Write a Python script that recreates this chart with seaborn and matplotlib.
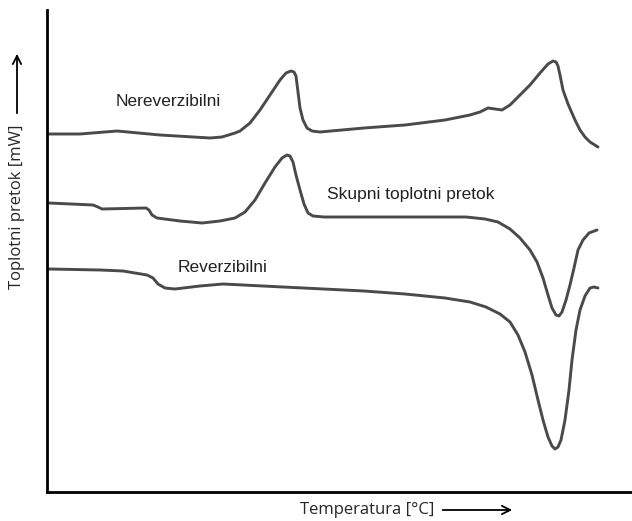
import pandas as pd
import seaborn as sns
import matplotlib.pyplot as plt

sns.set_theme(style="white")

# temperature axis (arbitrary units) and heat-flow values
t_nerev = [49, 80, 117, 160, 210, 222, 235, 240, 250, 260, 270, 280, 286, 291, 294, 296,
           298, 300, 303, 307, 312, 320, 364, 405, 445, 470, 480, 488, 495, 502, 510, 520,
           530, 540, 548, 553, 556, 558, 560, 563, 568, 575, 580, 585, 590, 598]
hf_nerev = [387, 387, 390, 386, 383, 384, 388, 390, 398, 411, 426, 441, 448, 450, 449, 445,
            429, 413, 401, 393, 390, 389, 393, 396, 401, 406, 409, 413, 412, 411, 416, 426,
            436, 448, 457, 460, 459, 455, 446, 431, 417, 401, 391, 384, 379, 374]

t_total = [49, 93, 98, 102, 146, 149, 152, 157, 180, 202, 220, 235, 245, 255, 265, 275,
           282, 287, 290, 293, 296, 300, 304, 308, 313, 324, 405, 466, 485, 498, 510, 520,
           530, 537, 543, 548, 552, 556, 559, 562, 566, 570, 574, 578, 583, 589, 597]
hf_total = [318, 316, 314, 312, 313, 311, 306, 303, 300, 298, 300, 303, 309, 321, 338, 354,
            363, 366, 365, 359, 346, 331, 317, 308, 305, 304, 304, 304, 302, 299, 292, 283,
            271, 259, 243, 226, 213, 206, 205, 209, 221, 236, 253, 271, 281, 288, 291]

t_rev = [49, 100, 123, 147, 153, 158, 165, 175, 200, 223, 283, 364, 405, 445, 470, 486,
         500, 510, 518, 525, 532, 538, 543, 548, 552, 555, 558, 561, 565, 569, 572, 576,
         580, 585, 590, 594, 598]
hf_rev = [252, 251, 250, 246, 243, 237, 233, 232, 235, 237, 234, 230, 227, 223, 219, 214,
          207, 199, 186, 169, 146, 121, 101, 84, 75, 72, 74, 81, 101, 131, 161, 191,
          211, 225, 233, 234, 233]

labels = ["Nereverzibilni", "Skupni toplotni pretok", "Reverzibilni"]

fig = plt.figure(figsize=(6.32, 5.21), dpi=100)
ax = fig.add_axes([47 / 632, 29 / 521, 585 / 632, 482 / 521])

color = "#4a4a4a"
for t, hf in [(t_nerev, hf_nerev), (t_total, hf_total), (t_rev, hf_rev)]:
    df = pd.DataFrame({"T": t, "HF": hf})
    sns.lineplot(data=df, x="T", y="HF", ax=ax, color=color, linewidth=2.1,
                 estimator=None, sort=False, solid_joinstyle="round",
                 solid_capstyle="round")

ax.set_xlim(47, 632)
ax.set_ylim(29, 511)
ax.set_xticks([])
ax.set_yticks([])
ax.set_xlabel("")
ax.set_ylabel("")
for s in ["top", "right"]:
    ax.spines[s].set_visible(False)
for s in ["left", "bottom"]:
    ax.spines[s].set_color("black")
    ax.spines[s].set_linewidth(2)

# curve labels
fnt = dict(family="Liberation Sans", fontsize=12.5, color="#222222")
ax.text(168, 420, labels[0], ha="center", va="center", **fnt)
ax.text(411, 326, labels[1], ha="center", va="center", **fnt)
ax.text(223, 254, labels[2], ha="center", va="center", **fnt)

# axis labels with arrows
fig.text(367 / 632, 1 - 510 / 521, "Temperatura [°C]", ha="center", va="center",
         family="Open Sans", fontsize=12)
ax.annotate("", xy=(515 / 632, 1 - 510 / 521), xytext=(440 / 632, 1 - 510 / 521),
            xycoords="figure fraction",
            arrowprops=dict(arrowstyle="->", color="black", lw=1.3, mutation_scale=15),
            annotation_clip=False)
fig.text(17 / 632, 1 - 207 / 521, "Toplotni pretok [mW]", ha="center", va="center",
         rotation=90, family="Open Sans", fontsize=12)
ax.annotate("", xy=(17 / 632, 1 - 51 / 521), xytext=(17 / 632, 1 - 116 / 521),
            xycoords="figure fraction",
            arrowprops=dict(arrowstyle="->", color="black", lw=1.3, mutation_scale=15),
            annotation_clip=False)

fig.savefig("out.png", dpi=100)
